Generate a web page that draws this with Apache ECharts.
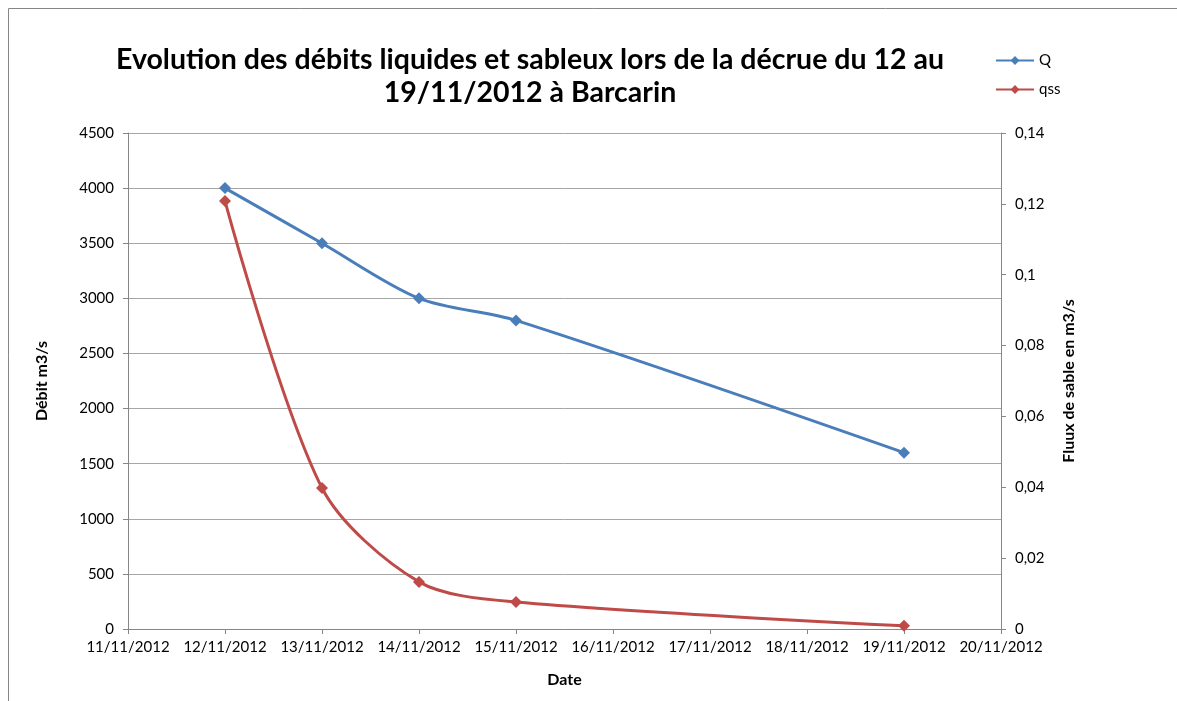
<!DOCTYPE html>
<html>
<head>
<meta charset="utf-8">
<script src="https://cdn.jsdelivr.net/npm/echarts@6/dist/echarts.min.js"></script>
<style>
html,body{margin:0;padding:0;background:#fff;}
#main{width:1177px;height:701px;}
</style>
</head>
<body>
<div id="main"></div>
<script>
var dates = ['11/11/2012','12/11/2012','13/11/2012','14/11/2012','15/11/2012','16/11/2012','17/11/2012','18/11/2012','19/11/2012','20/11/2012'];
// débit liquide Q (m3/s)
var qValues = [null, 4000, 3500, 3000, 2800, null, null, null, 1600, null];
// flux de sable qss (m3/s)
var qssValues = [null, 0.1208, 0.0398, 0.0133, 0.0076, null, null, null, 0.0009, null];

var font = 'Lato, "Liberation Sans", sans-serif';
var myChart = echarts.init(document.getElementById('main'));
var option = {
	animation: false,
	backgroundColor: '#fff',
	textStyle: {fontFamily: font},
	graphic: [{
		type: 'rect',
		shape: {x: 8.5, y: 8.5, width: 1200, height: 800},
		style: {fill: 'none', stroke: '#868686', lineWidth: 1}
	}],
	title: {
		text: 'Evolution des débits liquides et sableux lors de la décrue du 12 au\n19/11/2012 à Barcarin',
		left: 525,
		top: 38,
		textAlign: 'center',
		textStyle: {fontFamily: font, fontSize: 28.5, fontWeight: 'bold', color: '#000', lineHeight: 33}
	},
	legend: {
		orient: 'vertical',
		left: 990,
		top: 48,
		itemGap: 14,
		itemWidth: 38,
		itemHeight: 11,
		textStyle: {fontFamily: font, fontSize: 15, color: '#000'},
		data: ['Q', 'qss']
	},
	grid: {left: 128, right: 176, top: 133, bottom: 72},
	xAxis: {
		type: 'category',
		data: dates,
		boundaryGap: false,
		name: 'Date',
		nameLocation: 'middle',
		nameGap: 43,
		nameTextStyle: {fontFamily: font, fontSize: 16, fontWeight: 'bold', color: '#000'},
		axisLine: {lineStyle: {color: '#868686', width: 1}},
		axisTick: {alignWithLabel: true, length: 5, lineStyle: {color: '#868686'}},
		axisLabel: {fontFamily: font, fontSize: 15, color: '#000', margin: 11, interval: 0}
	},
	yAxis: [{
		type: 'value',
		min: 0, max: 4500, interval: 500,
		name: 'Débit m3/s',
		nameLocation: 'middle',
		nameGap: 78,
		nameRotate: 90,
		nameTextStyle: {fontFamily: font, fontSize: 16, fontWeight: 'bold', color: '#000'},
		axisLine: {show: true, lineStyle: {color: '#868686'}},
		axisTick: {show: true, length: 5, lineStyle: {color: '#868686'}},
		axisLabel: {
			fontFamily: font, fontSize: 15, color: '#000', margin: 14,
			formatter: function (v) { return String(v); }
		},
		splitLine: {lineStyle: {color: '#a6a6a6', width: 1}}
	}, {
		type: 'value',
		min: 0, max: 0.14, interval: 0.02,
		position: 'right',
		name: 'Fluux de sable en m3/s',
		nameLocation: 'middle',
		nameGap: 60,
		nameRotate: 90,
		nameTextStyle: {fontFamily: font, fontSize: 16, fontWeight: 'bold', color: '#000'},
		axisLine: {show: true, lineStyle: {color: '#868686'}},
		axisTick: {show: true, length: 5, lineStyle: {color: '#868686'}},
		axisLabel: {
			fontFamily: font, fontSize: 15, color: '#000', margin: 14,
			formatter: function (v) { return String(+v.toFixed(2)).replace('.', ','); }
		},
		splitLine: {show: false}
	}],
	series: [{
		name: 'Q',
		type: 'line',
		data: qValues,
		connectNulls: true,
		smooth: 0.3,
		symbol: 'diamond',
		symbolSize: 12,
		lineStyle: {color: '#4a7ebb', width: 3},
		itemStyle: {color: '#4a7ebb'}
	}, {
		name: 'qss',
		type: 'line',
		yAxisIndex: 1,
		data: qssValues,
		connectNulls: true,
		smooth: 0.3,
		symbol: 'diamond',
		symbolSize: 12,
		lineStyle: {color: '#be4b48', width: 3},
		itemStyle: {color: '#be4b48'}
	}]
};
myChart.setOption(option);
</script>
</body>
</html>
